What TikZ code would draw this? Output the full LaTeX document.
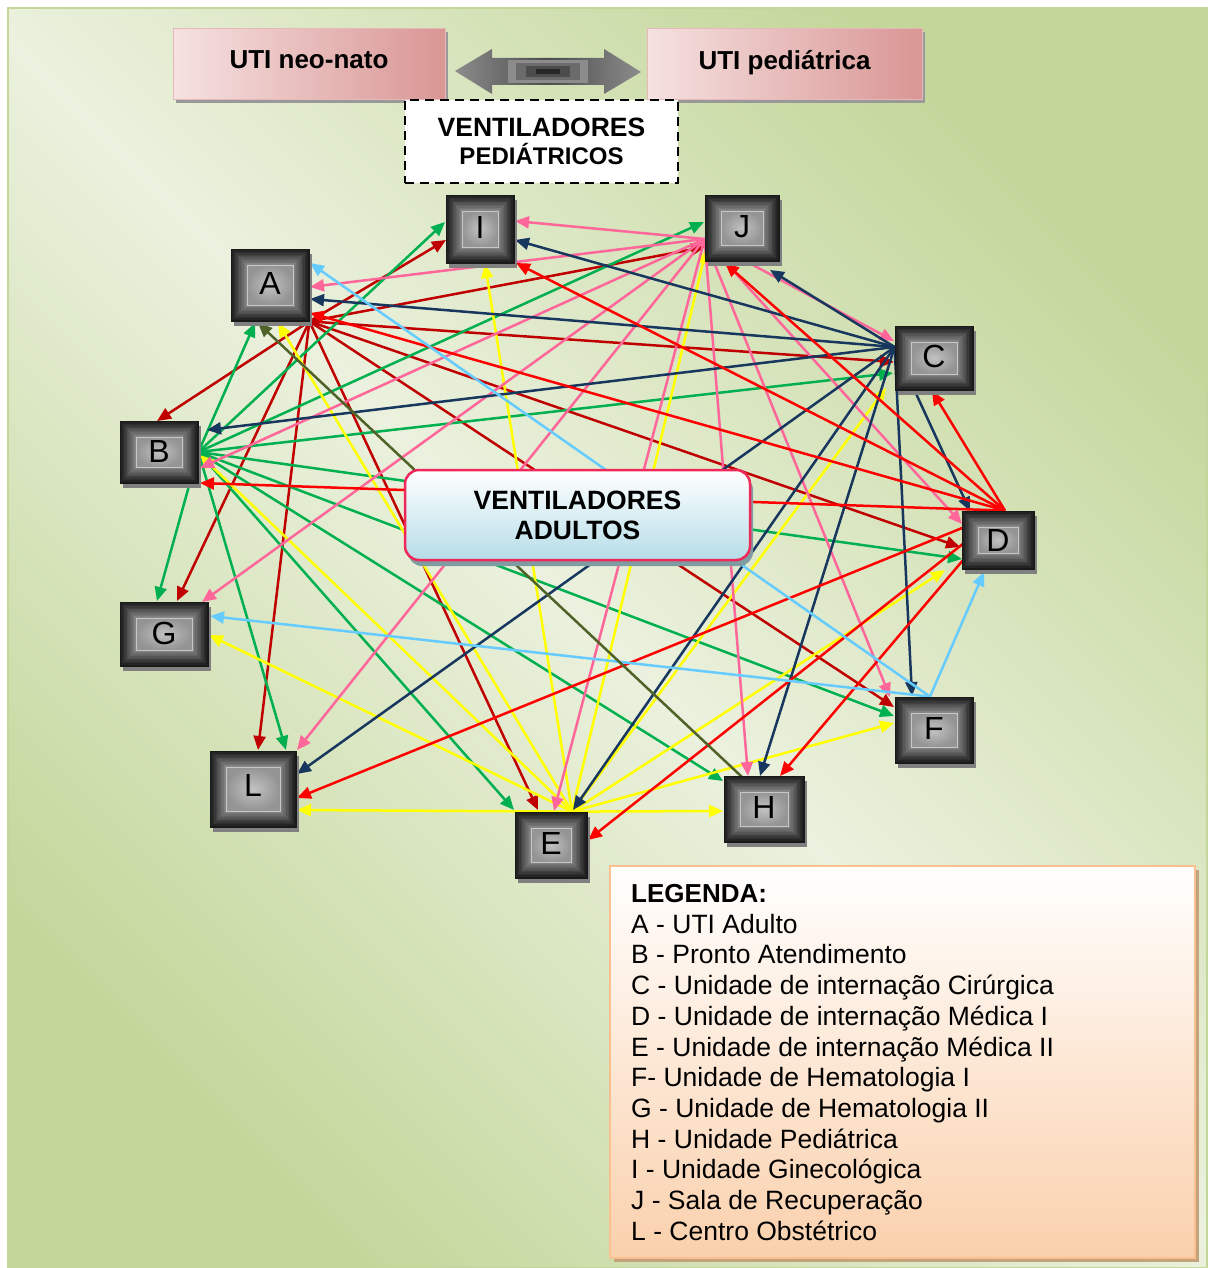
\documentclass[tikz,border=0pt]{standalone}
\usepackage{fontspec}
\setmainfont{Liberation Sans}
\usetikzlibrary{arrows.meta,shadows}
\definecolor{dkred}{HTML}{C00000}
\definecolor{myred}{HTML}{FF0000}
\definecolor{mygreen}{HTML}{00B050}
\definecolor{myyellow}{HTML}{FFFF00}
\definecolor{mypink}{HTML}{FF6699}
\definecolor{mynavy}{HTML}{17375E}
\definecolor{myltblue}{HTML}{66CCFF}
\definecolor{myolive}{HTML}{4F6228}
\definecolor{bggreen}{HTML}{C4D79B}
\definecolor{bglight}{HTML}{EBF1DE}
\definecolor{pinkL}{HTML}{F5E2E1}
\definecolor{pinkR}{HTML}{D99694}
\definecolor{pinkB}{HTML}{E6B9B8}
\definecolor{adborder}{HTML}{F0285A}
\definecolor{adblue}{HTML}{B6DDE8}
\definecolor{adshadow}{HTML}{7F9CA2}
\definecolor{legborder}{HTML}{FAC090}
\definecolor{legpeach}{HTML}{FAD0AC}
\definecolor{legshadow}{HTML}{C4A27C}
\pgfdeclarelayer{bg}
\pgfdeclarelayer{lines}
\pgfsetlayers{bg,lines,main}
\newcommand{\myconn}[5]{\draw[#1] (#2) -- ([shift={(#4,#5)}]#3.center);}
\begin{document}
\begin{tikzpicture}[x=1pt,y=-1pt,
  con/.style={line width=2.5pt,-{Triangle[length=14pt,width=12pt]}},
  unitbox/.style={rectangle, inner sep=0pt, draw=black!90, line width=0.8pt, fill=black!88,
    font=\fontsize{32}{32}\selectfont,
    drop shadow={shadow xshift=3pt,shadow yshift=-5pt,fill=black!50,opacity=1},
    path picture={
      \foreach \k/\g in {0/90,1/86,2/82,3/78,4/74,5/70,6/66,7/62,8/58,9/54,10/50,11/47}{
        \fill[black!\g] ([shift={(\k*1.4pt,\k*1.4pt)}]path picture bounding box.south west) rectangle ([shift={(-\k*1.4pt,-\k*1.4pt)}]path picture bounding box.north east);
      }
      \shade[inner color=black!24, outer color=black!42, draw=black!22, line width=0.7pt] ([shift={(16pt,16pt)}]path picture bounding box.south west) rectangle ([shift={(-16pt,-16pt)}]path picture bounding box.north east);
    }},
  pinkbox/.style={rectangle, inner sep=0pt, draw=pinkB, line width=1pt, left color=pinkL, right color=pinkR,
    drop shadow={shadow xshift=3pt,shadow yshift=-3pt,fill=black!40,opacity=1},
    font=\bfseries\fontsize{26}{26}\selectfont},
  dashbox/.style={rectangle, inner sep=0pt, draw=black, fill=white, line width=2.2pt, dash pattern=on 9pt off 6pt, align=center,
    font=\bfseries\fontsize{26.5}{26.5}\selectfont},
  adultbox/.style={rectangle, rounded corners=14pt, inner sep=0pt, draw=adborder, line width=2.5pt, top color=white, bottom color=adblue,
    drop shadow={shadow xshift=3pt,shadow yshift=-6pt,fill=adshadow,opacity=1}, align=center,
    font=\bfseries\fontsize{26.5}{30}\selectfont},
  legbox/.style={rectangle, inner sep=0pt, draw=legborder, line width=2pt, top color=white, bottom color=legpeach,
    drop shadow={shadow xshift=4pt,shadow yshift=-4pt,fill=legshadow,opacity=1}},
  legtxt/.style={anchor=base west, inner sep=0pt, font=\fontsize{26.5}{26.5}\selectfont}
]
\useasboundingbox (0,0) rectangle (1207,1268);
\begin{pgfonlayer}{bg}
  \shade[top color=bggreen, bottom color=bggreen, middle color=bglight, shading angle=-45] (8,8) rectangle (1207,1268);
  \draw[bggreen, line width=1.5pt] (8,8) rectangle (1207,1268);
\end{pgfonlayer}

% top boxes
\node[pinkbox, minimum width=272pt, minimum height=71pt] (neo) at (309,64.5) {\raisebox{10pt}{UTI neo-nato}};
\node[pinkbox, minimum width=275pt, minimum height=71pt] (ped) at (784.5,64.5) {\raisebox{10pt}{UTI pediátrica}};
% block double arrow
\shade[left color=black!45, right color=black!45, middle color=black!70]
  (455,71) -- (492,49) -- (492,58) -- (604,58) -- (604,49) -- (641,72) -- (604,94) -- (604,85) -- (492,85) -- (492,94) -- cycle;
\fill[black!45] (508,60) rectangle (588,83);
\fill[black!58] (516,63) rectangle (580,80);
\fill[black!70] (526,66) rectangle (570,77);
\fill[black!85] (536,69) rectangle (560,74);
\node[dashbox, minimum width=273pt, minimum height=83pt] (vped) at (541.5,141.5)
  {VENTILADORES\\[2pt]\fontsize{24}{24}\selectfont PEDIÁTRICOS};

% unit boxes
\node[unitbox, minimum width=78pt, minimum height=72pt] (A) at (270,285) {\raisebox{4pt}{A}};
\node[unitbox, minimum width=78pt, minimum height=62pt] (B) at (159,452) {\raisebox{2pt}{B}};
\node[unitbox, minimum width=78pt, minimum height=64pt] (C) at (934,358) {\raisebox{3pt}{C}};
\node[unitbox, minimum width=72pt, minimum height=58pt] (D) at (998,540) {D};
\node[unitbox, minimum width=72pt, minimum height=66pt] (E) at (551,845) {\raisebox{4pt}{E}};
\node[unitbox, minimum width=78pt, minimum height=66pt] (F) at (934,730) {\raisebox{3pt}{F}};
\node[unitbox, minimum width=88pt, minimum height=64pt] (G) at (164,634) {\raisebox{2pt}{G}};
\node[unitbox, minimum width=80pt, minimum height=66pt] (H) at (764,809) {\raisebox{4pt}{H}};
\node[unitbox, minimum width=68pt, minimum height=68pt] (I) at (480,229) {\raisebox{4pt}{I}};
\node[unitbox, minimum width=74pt, minimum height=66pt] (J) at (742,228) {\raisebox{3pt}{J}};
\node[unitbox, minimum width=86pt, minimum height=76pt] (L) at (253,789) {\raisebox{8pt}{L}};

% central box
\node[adultbox, minimum width=345pt, minimum height=90pt] (vad) at (577.5,515) {VENTILADORES\\ADULTOS};

% connectors
\begin{pgfonlayer}{lines}
% A (dark red)
\myconn{con,dkred}{A.south east}{B}{-2}{-31}
\myconn{con,dkred}{A.south east}{I}{-34}{11}
\myconn{con,dkred}{A.south east}{J}{-37}{19}
\myconn{con,dkred}{A.south east}{C}{-40}{4}
\myconn{con,dkred}{A.south east}{D}{-38}{7}
\myconn{con,dkred}{A.south east}{F}{-40}{-23}
\myconn{con,dkred}{A.south east}{E}{-13}{-35}
\myconn{con,dkred}{A.south east}{L}{5}{-39}
\myconn{con,dkred}{A.south east}{G}{13}{-33}
% B (green)
\myconn{con,mygreen}{B.east}{A}{-15}{38}
\myconn{con,mygreen}{B.east}{I}{-35}{-7}
\myconn{con,mygreen}{B.east}{J}{-38}{-6}
\myconn{con,mygreen}{B.east}{C}{-41}{15}
\myconn{con,mygreen}{B.east}{D}{-36}{19}
\myconn{con,mygreen}{B.east}{F}{-40}{-14}
\myconn{con,mygreen}{B.east}{H}{-41}{-28}
\myconn{con,mygreen}{B.east}{E}{-37}{-35}
\myconn{con,mygreen}{B.east}{L}{33}{-39}
\myconn{con,mygreen}{B.east}{G}{-7}{-33}
% E (yellow)
\myconn{con,myyellow}{[xshift=21pt]E.north}{A}{8}{38}
\myconn{con,myyellow}{[xshift=21pt]E.north}{I}{5}{35}
\myconn{con,myyellow}{[xshift=21pt]E.north}{J}{-36}{22}
\myconn{con,myyellow}{[xshift=21pt]E.north}{C}{-48}{30}
\myconn{con,myyellow}{[xshift=21pt]E.north}{D}{-53}{30}
\myconn{con,myyellow}{[xshift=21pt]E.north}{F}{-40}{-7}
\myconn{con,myyellow}{[xshift=21pt]E.north}{H}{-41}{2}
\myconn{con,myyellow}{[xshift=21pt]E.north}{L}{44}{21}
\myconn{con,myyellow}{[xshift=21pt]E.north}{G}{45}{1}
\myconn{con,myyellow}{[xshift=21pt]E.north}{B}{41}{3}
% J (pink)
\myconn{con,mypink}{[yshift=-11pt]J.west}{I}{35}{-8}
\myconn{con,mypink}{[yshift=-11pt]J.west}{A}{40}{2}
\myconn{con,mypink}{[yshift=-11pt]J.west}{B}{41}{16}
\myconn{con,mypink}{[yshift=-11pt]J.west}{G}{38}{-32}
\myconn{con,mypink}{[yshift=-11pt]J.west}{L}{44}{-39}
\myconn{con,mypink}{[yshift=-11pt]J.west}{E}{3}{-34}
\myconn{con,mypink}{[yshift=-11pt]J.west}{H}{-16}{-33}
\myconn{con,mypink}{[yshift=-11pt]J.west}{F}{-44}{-33}
\myconn{con,mypink}{[yshift=-11pt]J.west}{D}{-36}{-16}
\myconn{con,mypink}{[yshift=-11pt]J.west}{C}{-40}{-17}
% C (navy)
\myconn{con,mynavy}{[yshift=11pt]C.west}{J}{28}{42}
\myconn{con,mynavy}{[yshift=11pt]C.west}{I}{35}{11}
\myconn{con,mynavy}{[yshift=11pt]C.west}{A}{40}{14}
\myconn{con,mynavy}{[yshift=11pt]C.west}{B}{48}{-22}
\myconn{con,mynavy}{[yshift=11pt]C.west}{L}{44}{-15}
\myconn{con,mynavy}{[yshift=11pt]C.west}{E}{22}{-35}
\myconn{con,mynavy}{[yshift=11pt]C.west}{H}{-4}{-33}
\myconn{con,mynavy}{[yshift=11pt]C.west}{F}{-22}{-34}
\myconn{con,mynavy}{[yshift=11pt]C.west}{D}{-28}{-29}
% D (red)
\myconn{con,myred}{[xshift=7pt]D.north}{C}{-2}{33}
\myconn{con,myred}{[xshift=7pt]D.north}{J}{-17}{35}
\myconn{con,myred}{[xshift=7pt]D.north}{I}{36}{34}
\myconn{con,myred}{[xshift=7pt]D.north}{A}{40}{28}
\myconn{con,myred}{[xshift=7pt]D.north}{B}{41}{31}
\myconn{con,myred}{[xshift=7pt]D.north}{L}{44}{9}
\myconn{con,myred}{[xshift=7pt]D.north}{E}{37}{-5}
\myconn{con,myred}{[xshift=7pt]D.north}{H}{16}{-33}
% F (light blue)
\myconn{con,myltblue}{[xshift=-4pt]F.north}{A}{40}{-22}
\myconn{con,myltblue}{[xshift=-4pt]F.north}{G}{46}{-18}
\myconn{con,myltblue}{[xshift=-4pt]F.north}{D}{-14}{32}
% H (olive)
\myconn{con,myolive}{[xshift=-16pt,yshift=-7pt]H.north}{A}{-12}{38}
\end{pgfonlayer}

% legend
\node[legbox, minimum width=585pt, minimum height=392pt] (leg) at (902.5,1062) {};
\node[legtxt, font=\bfseries\fontsize{26}{26}\selectfont] (leg0) at (631,902) {LEGENDA:};
\node[legtxt] (leg1) at (631,933) {A - UTI Adulto};
\node[legtxt] (leg2) at (631,963.5) {B - Pronto Atendimento};
\node[legtxt] (leg3) at (631,994.5) {C - Unidade de internação Cirúrgica};
\node[legtxt] (leg4) at (631,1025) {D - Unidade de internação Médica I};
\node[legtxt] (leg5) at (631,1056) {E - Unidade de internação Médica II};
\node[legtxt] (leg6) at (631,1086.5) {F- Unidade de Hematologia I};
\node[legtxt] (leg7) at (631,1117.5) {G - Unidade de Hematologia II};
\node[legtxt] (leg8) at (631,1148) {H - Unidade Pediátrica};
\node[legtxt] (leg9) at (631,1178.5) {I - Unidade Ginecológica};
\node[legtxt] (leg10) at (631,1209.5) {J - Sala de Recuperação};
\node[legtxt] (leg11) at (631,1240) {L - Centro Obstétrico};
\end{tikzpicture}
\end{document}
